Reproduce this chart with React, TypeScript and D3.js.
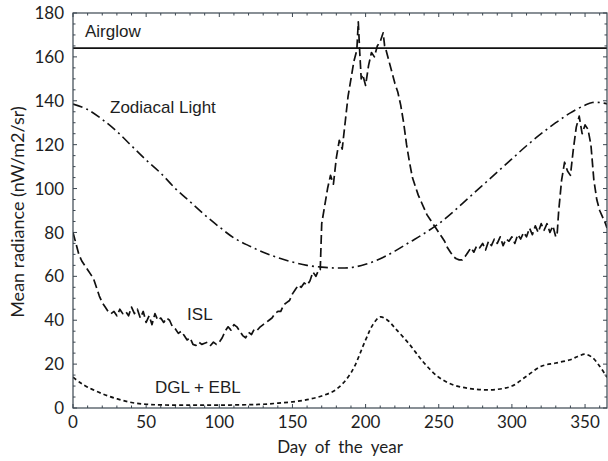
import React from "react";
import * as d3 from "d3";

const X_TICKS = [0, 50, 100, 150, 200, 250, 300, 350];
const Y_TICKS = [0, 20, 40, 60, 80, 100, 120, 140, 160, 180];

const AIRGLOW_LEVEL = 164;

const ZODI_DAYS = [0, 10, 20, 30, 40, 50, 60, 70, 80, 90, 100, 110, 120, 130, 140, 150, 160, 170, 180, 190, 200, 210, 220, 230, 240, 250, 260, 270, 280, 290, 300, 310, 320, 330, 340, 350, 355, 360, 365];
const ZODI_VALUES = [138.5, 136, 131.5, 126, 119.5, 113, 107, 100, 94, 88, 82.5, 77.5, 74, 71, 68.5, 66.5, 65, 64.2, 63.8, 64, 65.5, 68, 71.5, 75.5, 79.5, 84, 89.5, 95.5, 101.5, 107.5, 113.5, 119.5, 125, 130, 134.5, 138, 139.2, 139.2, 138.6];

const DGL_DAYS = [0, 5, 10, 20, 30, 40, 50, 60, 80, 100, 120, 130, 140, 150, 160, 170, 180, 190, 200, 205, 210, 215, 220, 230, 240, 250, 260, 270, 280, 290, 300, 310, 320, 330, 340, 345, 350, 355, 360, 365];
const DGL_VALUES = [14, 11.5, 9.5, 6.5, 4.2, 2.5, 1.7, 1.4, 1.3, 1.3, 1.5, 1.7, 2.2, 2.8, 3.8, 5.5, 8.5, 16, 31, 38, 41.5, 40, 36.5, 29, 20.5, 14, 10.5, 9, 8.3, 8.5, 10, 14.5, 19, 20.5, 22, 23.5, 24.5, 23, 19, 14];

const ISL_DAYS = [0, 2, 4, 6, 8, 10, 12, 14, 16, 18, 20, 22, 24, 26, 28, 30, 32, 34, 36, 38, 40, 42, 44, 46, 48, 50, 52, 54, 56, 58, 60, 62, 64, 66, 68, 70, 72, 74, 76, 78, 80, 82, 84, 86, 88, 90, 92, 94, 96, 98, 100, 102, 104, 106, 108, 110, 112, 114, 116, 118, 120, 122, 124, 126, 128, 130, 132, 134, 136, 138, 140, 142, 144, 146, 148, 150, 152, 154, 156, 158, 160, 162, 164, 166, 168, 169, 170, 172, 174, 176, 178, 180, 182, 184, 186, 188, 190, 192, 194, 195, 196, 197, 198, 200, 202, 204, 206, 208, 210, 212, 213, 214, 216, 218, 220, 222, 224, 226, 228, 230, 232, 234, 236, 238, 240, 242, 244, 246, 248, 250, 252, 254, 256, 258, 260, 262, 264, 266, 268, 270, 272, 274, 276, 278, 280, 282, 284, 286, 288, 290, 292, 294, 296, 298, 300, 302, 304, 306, 308, 310, 312, 314, 316, 318, 320, 322, 324, 326, 328, 330, 331, 332, 334, 336, 338, 340, 342, 344, 346, 348, 350, 352, 354, 356, 358, 360, 362, 364, 365];
const ISL_VALUES = [80, 75, 70, 67, 65, 63, 61, 59, 55, 51, 48, 46, 44, 43, 44, 42, 45, 43, 44, 42, 46, 43, 45, 41, 44, 39, 42, 38, 43, 40, 41, 39, 41, 40, 37, 36, 34, 35, 33, 31, 32, 29, 28.5, 30, 29, 29.5, 30, 28.5, 30, 29, 30, 32, 35, 37, 35.5, 38, 37, 35, 33, 32, 34.5, 33.5, 36, 35.5, 37, 38, 39, 40, 41, 43, 44, 44, 47, 48, 49, 52, 54, 56, 55, 57, 56, 58, 62, 60, 63, 63, 84, 92, 100, 106, 102, 114, 122, 118, 130, 142, 150, 158, 163, 176, 162, 150, 152, 147, 156, 162, 160, 165, 167, 171, 165, 163, 158, 153, 148, 144, 138, 130, 120, 112, 105, 101, 97, 94, 91, 88, 86, 84, 82, 80, 78, 76, 73, 71, 69, 68, 67.5, 67.5, 69, 71, 73, 71, 74, 73, 75, 72, 76, 74, 77, 75, 78, 74, 77, 76, 78, 75, 79, 77, 80, 78, 82, 79, 83, 80, 84, 81, 84, 80, 83, 78, 80, 90, 104, 112, 108, 106, 118, 128, 133, 125, 129, 127, 120, 104, 95, 90, 87, 84, 82];

const LABEL_TEXT = ["Airglow", "Zodiacal Light", "ISL", "DGL + EBL"];
const LABEL_DAY = [8.2, 25.3, 78, 56];
const LABEL_VALUE = [169, 134.5, 40, 6.8];

const W = 608;
const H = 461;
const M = { left: 73, right: 1, top: 13, bottom: 53 };

export default function App() {
  const x = d3.scaleLinear().domain([0, 365]).range([M.left, W - M.right]);
  const y = d3.scaleLinear().domain([0, 180]).range([H - M.bottom, M.top]);

  const line = (curve: d3.CurveFactory) =>
    d3
      .line<[number, number]>()
      .x((d) => x(d[0]))
      .y((d) => y(d[1]))
      .curve(curve);

  const zodi = ZODI_DAYS.map((d, i) => [d, ZODI_VALUES[i]] as [number, number]);
  const dgl = DGL_DAYS.map((d, i) => [d, DGL_VALUES[i]] as [number, number]);
  const isl = ISL_DAYS.map((d, i) => [d, ISL_VALUES[i]] as [number, number]);

  const axisColor = "#3b4650";
  const textColor = "#1e1e1e";
  const x0 = x(0), x1 = x(365), y0 = y(0), y1 = y(180);

  const xMinor = d3.range(0, 366, 10);
  const yMinor = d3.range(0, 181, 5);

  return (
    <div style={{ position: "absolute", left: 0, top: 0 }}>
      <svg width={W} height={H} style={{ display: "block", background: "#fff" }}>
        <defs>
          <clipPath id="plot">
            <rect x={x0} y={y1} width={x1 - x0} height={y0 - y1} />
          </clipPath>
        </defs>
        {xMinor.map((t) => (
          <g key={"xm" + t}>
            <line x1={x(t)} x2={x(t)} y1={y0} y2={y0 - (t % 50 === 0 ? 4 : 2.5)} stroke={axisColor} strokeWidth={1} />
            <line x1={x(t)} x2={x(t)} y1={y1} y2={y1 + (t % 50 === 0 ? 4 : 2.5)} stroke={axisColor} strokeWidth={1} />
          </g>
        ))}
        {yMinor.map((t) => (
          <g key={"ym" + t}>
            <line x1={x0} x2={x0 + (t % 20 === 0 ? 4 : 2.5)} y1={y(t)} y2={y(t)} stroke={axisColor} strokeWidth={1} />
            <line x1={x1} x2={x1 - (t % 20 === 0 ? 4 : 2.5)} y1={y(t)} y2={y(t)} stroke={axisColor} strokeWidth={1} />
          </g>
        ))}
        <g clipPath="url(#plot)" fill="none" stroke="#111" strokeLinejoin="round">
          <line x1={x0} x2={x1} y1={y(AIRGLOW_LEVEL)} y2={y(AIRGLOW_LEVEL)} strokeWidth={1.6} />
          <path d={line(d3.curveCatmullRom)(zodi) || ""} strokeWidth={1.6} strokeDasharray="10,4,2,4" />
          <path d={line(d3.curveCatmullRom)(dgl) || ""} strokeWidth={1.7} strokeDasharray="4,3" />
          <path d={line(d3.curveLinear)(isl) || ""} strokeWidth={1.7} strokeDasharray="9,4" />
        </g>
        <rect x={x0} y={y1} width={x1 - x0} height={y0 - y1} fill="none" stroke={axisColor} strokeWidth={1.2} />
        {X_TICKS.map((t) => (
          <text key={"xt" + t} x={x(t)} y={y0 + 20} textAnchor="middle" fontFamily="Lato" fontSize={17} fill={textColor}>
            {t}
          </text>
        ))}
        {Y_TICKS.map((t) => (
          <text key={"yt" + t} x={x0 - 9} y={y(t)} dy="0.36em" textAnchor="end" fontFamily="Lato" fontSize={17} fill={textColor}>
            {t}
          </text>
        ))}
        <text x={(x0 + x1) / 2} y={453} textAnchor="middle" fontFamily="Lato" fontSize={17} wordSpacing={4} fill={textColor}>
          Day of the year
        </text>
        <text
          transform={`translate(24, 212) rotate(-90)`}
          textAnchor="middle"
          fontFamily="Lato"
          fontSize={18}
          fill={textColor}
        >
          Mean radiance (nW/m2/sr)
        </text>
        {LABEL_TEXT.map((s, i) => (
          <text key={s} x={x(LABEL_DAY[i])} y={y(LABEL_VALUE[i])} fontFamily="Liberation Sans, Arial, sans-serif" fontSize={17} fill={textColor}>
            {s}
          </text>
        ))}
      </svg>
    </div>
  );
}
